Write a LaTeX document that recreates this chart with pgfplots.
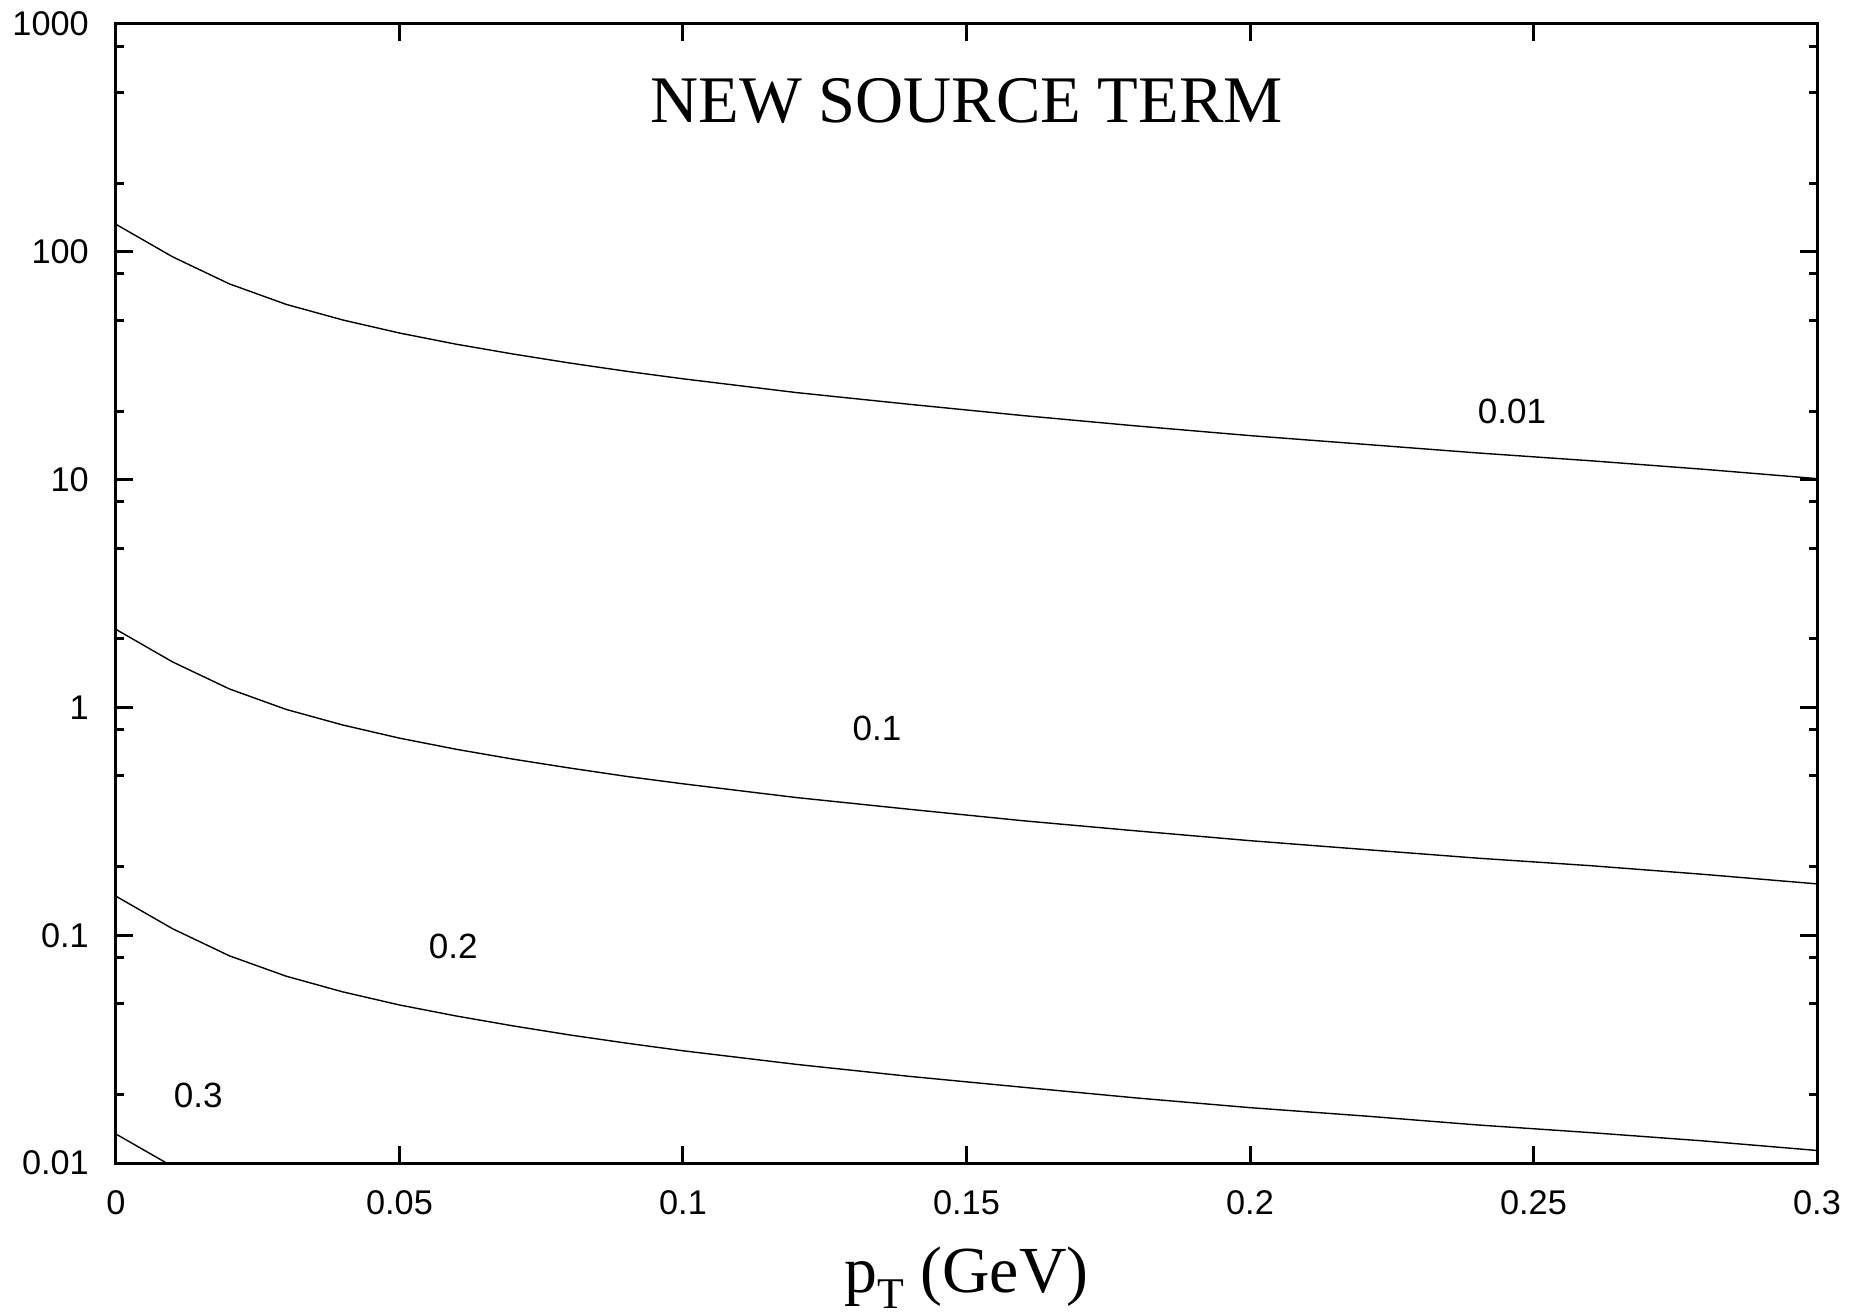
\documentclass[border=0pt]{standalone}
\usepackage{fontspec}
\setmainfont{Liberation Serif}
\newfontfamily\arial{Liberation Sans}
\usepackage{pgfplots}
\pgfplotsset{compat=1.18}

% curves labelled by parameter value
\pgfplotstableread{
x     y
0.00  132
0.01  95
0.02  72.3
0.03  58.8
0.04  50.2
0.05  44.0
0.06  39.3
0.07  35.6
0.08  32.5
0.09  29.9
0.10  27.7
0.12  24.1
0.14  21.4
0.16  19.1
0.18  17.2
0.20  15.6
0.22  14.3
0.24  13.1
0.26  12.1
0.28  11.1
0.30  10.1
}\curveA

\pgfplotstableread{
x     y
0.00  2.20
0.01  1.583
0.02  1.205
0.03  0.980
0.04  0.837
0.05  0.733
0.06  0.655
0.07  0.593
0.08  0.542
0.09  0.498
0.10  0.462
0.12  0.402
0.14  0.357
0.16  0.318
0.18  0.287
0.20  0.260
0.22  0.238
0.24  0.218
0.26  0.202
0.28  0.185
0.30  0.168
}\curveB

\pgfplotstableread{
x     y
0.00  0.1483
0.01  0.1067
0.02  0.0812
0.03  0.0661
0.04  0.0564
0.05  0.0494
0.06  0.0442
0.07  0.0400
0.08  0.0365
0.09  0.0336
0.10  0.0311
0.12  0.0271
0.14  0.0240
0.16  0.0215
0.18  0.0193
0.20  0.0175
0.22  0.0161
0.24  0.0147
0.26  0.0136
0.28  0.0125
0.30  0.01135
}\curveC

\pgfplotstableread{
x     y
0.00  0.0134
0.01  0.00965
0.02  0.00734
}\curveD

\begin{document}
\begin{tikzpicture}[curve/.style={black, line width=0.35bp, mark=none}]
  \begin{axis}[
      scale only axis,
      width=425.25bp,
      height=284.75bp,
      xmin=0, xmax=0.3,
      ymode=log, ymin=0.01, ymax=1000,
      xtick={0,0.05,0.1,0.15,0.2,0.25,0.3},
      xticklabels={0,0.05,0.1,0.15,0.2,0.25,0.3},
      ytick={0.01,0.1,1,10,100,1000},
      yticklabels={0.01,0.1,1,10,100,1000},
      minor ytick={0.02,0.05,0.08,0.2,0.5,0.8,2,5,8,20,50,80,200,500,800},
      tick align=inside,
      major tick length=4.25bp,
      minor tick length=2bp,
      every tick/.style={black, line width=0.75bp},
      axis line style={line width=0.75bp},
      style={/pgf/number format/assume math mode=true},
      ticklabel style={font=\arial\fontsize{8.6}{10}\selectfont},
      yticklabel style={xshift=-3.3bp},
      xticklabel style={yshift=-3.3bp},
      xlabel={p\raisebox{-0.55ex}{\fontsize{11}{12}\selectfont T} (GeV)},
      xlabel style={font=\fontsize{16.5}{19}\selectfont, at={(axis description cs:0.5,0)}, anchor=base, yshift=-32.25bp},
    ]
    \addplot[curve] table {\curveA};
    \addplot[curve] table {\curveB};
    \addplot[curve] table {\curveC};
    \addplot[curve] table {\curveD};

    \node at (axis cs:0.15,459) {\fontsize{16.7}{20}\selectfont NEW SOURCE TERM};
    \node[font=\arial\fontsize{8.8}{10}\selectfont] at (axis cs:0.2462,20) {0.01};
    \node[font=\arial\fontsize{8.8}{10}\selectfont] at (axis cs:0.1342,0.807) {0.1};
    \node[font=\arial\fontsize{8.8}{10}\selectfont] at (axis cs:0.0595,0.0897) {0.2};
    \node[font=\arial\fontsize{8.8}{10}\selectfont] at (axis cs:0.0145,0.0199) {0.3};

    \coordinate (sw) at (rel axis cs:0,0);
    \coordinate (ne) at (rel axis cs:1,1);
  \end{axis}
  \pgfresetboundingbox
  \path[use as bounding box] ([xshift=-29bp,yshift=-37.75bp]sw) rectangle ([xshift=12.75bp,yshift=6bp]ne);
\end{tikzpicture}
\end{document}
